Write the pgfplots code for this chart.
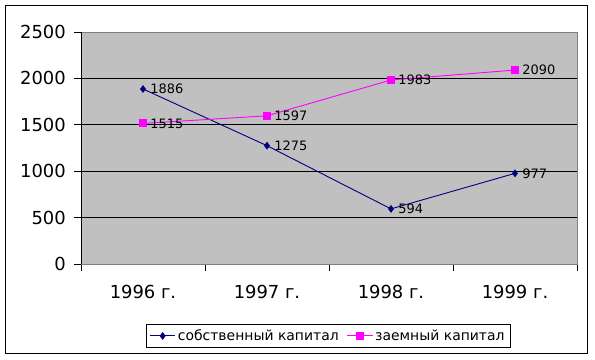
\documentclass[border=0pt]{standalone}
\usepackage{pgfplots}
\pgfplotsset{compat=1.18}
\usepackage{fontspec}
\setmainfont{DejaVu Sans}
\definecolor{navyb}{RGB}{0,0,128}
\definecolor{mag}{RGB}{255,0,255}
\definecolor{plotgray}{RGB}{192,192,192}
\definecolor{framegray}{RGB}{128,128,128}
\begin{document}
\begin{tikzpicture}[x=1bp,y=1bp]
\useasboundingbox (0,0) rectangle (595,359);
\draw[black, line width=0.9bp] (5.5,5.5) rectangle (587,353.5);
\begin{axis}[
  at={(81bp,95bp)}, anchor=south west,
  width=496bp, height=232bp, scale only axis,
  xmin=-0.5, xmax=3.5, ymin=0, ymax=2500,
  ytick={0,500,1000,1500,2000,2500},
  yticklabels={0,500,1000,1500,2000,2500},
  xtick={-0.5,0.5,1.5,2.5,3.5},
  x tick label as interval,
  xticklabels={1996 г.,1997 г.,1998 г.,1999 г.},
  xtick pos=bottom, ytick pos=left,
  tick align=outside,
  major tick length=7bp,
  tick style={black, line width=0.8bp},
  ymajorgrids,
  major grid style={black, line width=0.9bp},
  axis line style={framegray, line width=0.9bp},
  axis background/.style={fill=plotgray},
  ticklabel style={font=\fontsize{18}{20}\selectfont},
  yticklabel style={inner sep=0pt, xshift=-8bp},
  xticklabel style={inner sep=0pt, yshift=-14bp, anchor=north},
  /pgf/number format/1000 sep={},
  /pgf/number format/assume math mode=true,
  nodes near coords,
  every node near coord/.append style={anchor=west, font=\fontsize{13}{15}\selectfont, text=black, inner sep=1bp, xshift=6bp},
  clip=false,
  legend style={at={(0.498,-0.31)}, anchor=center, legend columns=2, draw=black, line width=0.9bp,
    font=\fontsize{14}{16}\selectfont, inner sep=3.5bp,
    /tikz/every even column/.append style={column sep=6bp}},
  legend image code/.code={\draw[mark repeat=2,mark phase=2] plot coordinates {(0cm,0cm) (0.45cm,0cm) (0.9cm,0cm)};},
]
\addplot[navyb, line width=0.9bp, mark=diamond*, mark size=3.2bp, mark options={fill=navyb, draw=navyb}]
  coordinates {(0,1886) (1,1275) (2,594) (3,977)};
\addlegendentry{собственный капитал}
\addplot[mag, line width=0.9bp, mark=square*, mark size=3.5bp, mark options={fill=mag, draw=mag}]
  coordinates {(0,1515) (1,1597) (2,1983) (3,2090)};
\addlegendentry{заемный капитал}
\draw[black, line width=0.9bp] (rel axis cs:0,0) -- (rel axis cs:0,1);
\end{axis}
\end{tikzpicture}
\end{document}
